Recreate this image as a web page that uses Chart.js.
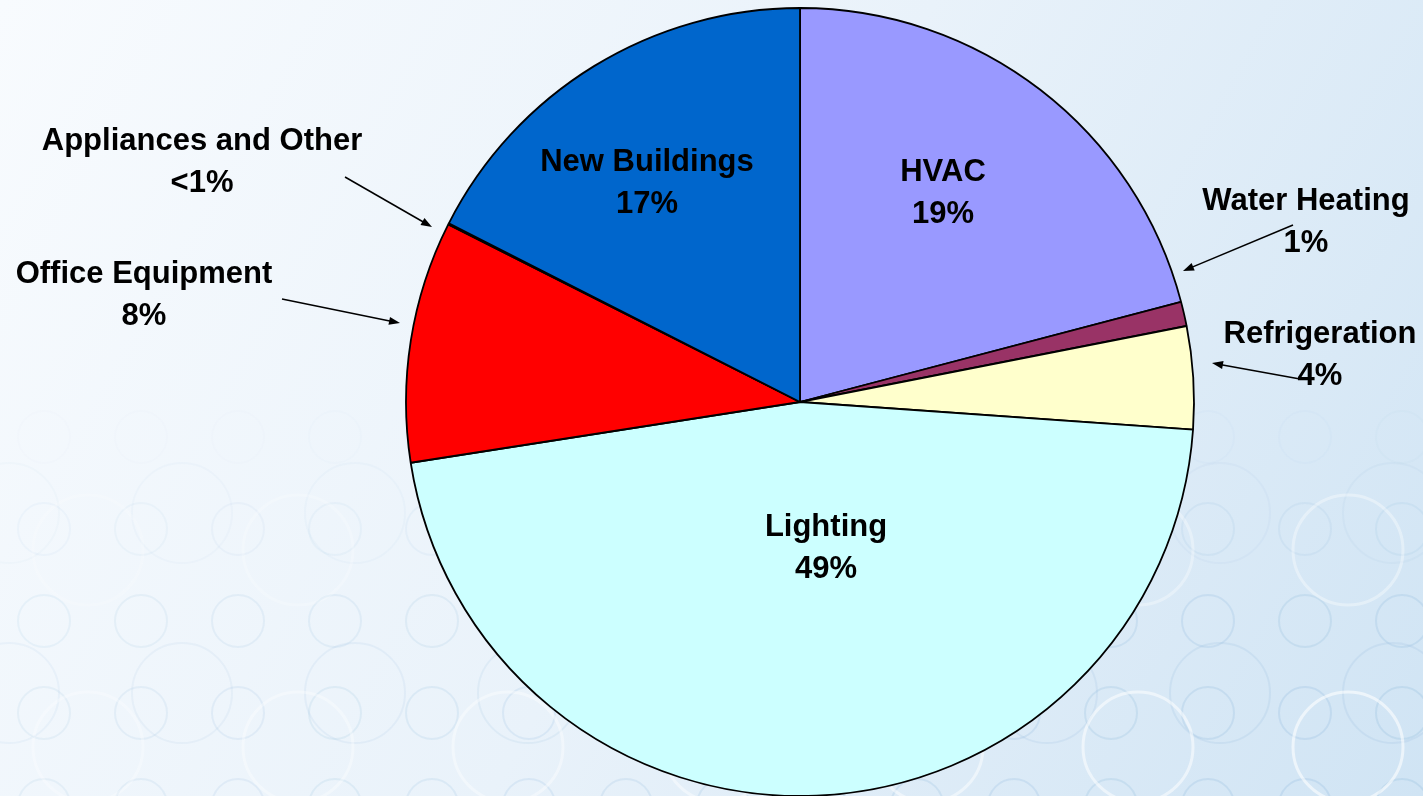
<!DOCTYPE html>
<html>
<head>
<meta charset="utf-8">
<script src="https://cdn.jsdelivr.net/npm/chart.js@4.4.0/dist/chart.umd.min.js"></script>
<style>
  html, body { margin: 0; padding: 0; overflow: hidden; }
  #wrap { width: 1423px; height: 796px; position: relative; }
</style>
</head>
<body>
<div id="wrap"><canvas id="myChart" width="1423" height="796"></canvas></div>
<script>
// Slices, clockwise from 12 o'clock
var categories = ['HVAC', 'Water Heating', 'Refrigeration', 'Lighting', 'Office Equipment', 'Appliances and Other', 'New Buildings'];
var shares = [20.9, 1.0, 4.2, 46.4, 9.9, 0.05, 17.5];
// Percent text printed on the chart
var percentLabels = ['19%', '1%', '4%', '49%', '8%', '<1%', '17%'];
var colors = ['#9999FF', '#993366', '#FFFFCC', '#CCFFFF', '#FF0000', '#FF0000', '#0066CC'];

// Label placement, offsets from pie centre (x, first baseline). Second line sits 42px lower.
var labelOffsets = [
    [143, -221],   // HVAC
    [506, -192],   // Water Heating
    [520, -59],    // Refrigeration
    [26, 134],     // Lighting
    [-656, -119],  // Office Equipment
    [-598, -252],  // Appliances and Other
    [-153, -231]   // New Buildings
];
// Leader arrows for the outside labels: [slice index, fromX, fromY, toX, toY] as offsets from centre
var arrows = [
    [1, 493, -177, 383, -131],
    [2, 500, -23, 412, -39],
    [4, -518, -103, -400, -79],
    [5, -455, -225, -368, -175]
];

// page background: light blue gradient with faint rings
var backgroundPlugin = {
    id: 'slideBackground',
    beforeDraw: function(chart) {
        var c = chart.ctx, w = chart.width, h = chart.height;
        c.save();
        var g = c.createLinearGradient(0, 0, w, h);
        g.addColorStop(0, '#F8FBFE');
        g.addColorStop(0.5, '#E9F2FA');
        g.addColorStop(1, '#D0E4F4');
        c.fillStyle = g;
        c.fillRect(0, 0, w, h);

        function rings(x0, dx, y0, dy, r, color, lw) {
            c.lineWidth = lw;
            c.strokeStyle = color;
            for (var y = y0; y < h + r; y += dy) {
                var a = Math.max(0, Math.min(1, (y - 400) / 240));
                if (a <= 0) continue;
                for (var x = x0; x > -r; x -= dx) {
                    c.globalAlpha = a * (0.45 + 0.55 * x / w);
                    c.beginPath();
                    c.arc(x, y, r, 0, Math.PI * 2);
                    c.stroke();
                }
            }
        }
        rings(1402, 97, 437, 92, 26, 'rgba(150,190,222,0.3)', 2);
        rings(1393, 173, 513, 180, 50, 'rgba(160,195,225,0.25)', 2);
        rings(1348, 210, 550, 197, 55, 'rgba(255,255,255,0.6)', 3);
        c.restore();
    }
};

var labelPlugin = {
    id: 'sliceLabels',
    afterDraw: function(chart) {
        var c = chart.ctx;
        var arc = chart.getDatasetMeta(0).data[0];
        var cx = arc.x, cy = arc.y;
        c.save();
        c.fillStyle = '#000';
        c.strokeStyle = '#000';
        c.font = 'bold 31px "Liberation Sans", Arial, sans-serif';
        c.textAlign = 'center';
        c.textBaseline = 'alphabetic';
        categories.forEach(function(name, i) {
            var o = labelOffsets[i];
            c.fillText(name, cx + o[0], cy + o[1]);
            c.fillText(percentLabels[i], cx + o[0], cy + o[1] + 42);
        });
        arrows.forEach(function(a) {
            var x1 = cx + a[1], y1 = cy + a[2], x2 = cx + a[3], y2 = cy + a[4];
            var ang = Math.atan2(y2 - y1, x2 - x1);
            c.lineWidth = 1.5;
            c.beginPath();
            c.moveTo(x1, y1);
            c.lineTo(x2 - 8 * Math.cos(ang), y2 - 8 * Math.sin(ang));
            c.stroke();
            c.beginPath();
            c.moveTo(x2, y2);
            c.lineTo(x2 - 11 * Math.cos(ang) + 4 * Math.sin(ang), y2 - 11 * Math.sin(ang) - 4 * Math.cos(ang));
            c.lineTo(x2 - 11 * Math.cos(ang) - 4 * Math.sin(ang), y2 - 11 * Math.sin(ang) + 4 * Math.cos(ang));
            c.closePath();
            c.fill();
        });
        c.restore();
    }
};

var ctx = document.getElementById('myChart').getContext('2d');
var chart = new Chart(ctx, {
    type: 'pie',
    data: {
        labels: categories,
        datasets: [{
            data: shares,
            backgroundColor: colors,
            borderColor: '#000000',
            borderWidth: 1.8
        }]
    },
    options: {
        responsive: false,
        animation: false,
        radius: 394,
        layout: { padding: { left: 177, right: 0, top: 8, bottom: 0 } },
        plugins: {
            legend: { display: false },
            tooltip: { enabled: false }
        }
    },
    plugins: [backgroundPlugin, labelPlugin]
});
</script>
</body>
</html>
